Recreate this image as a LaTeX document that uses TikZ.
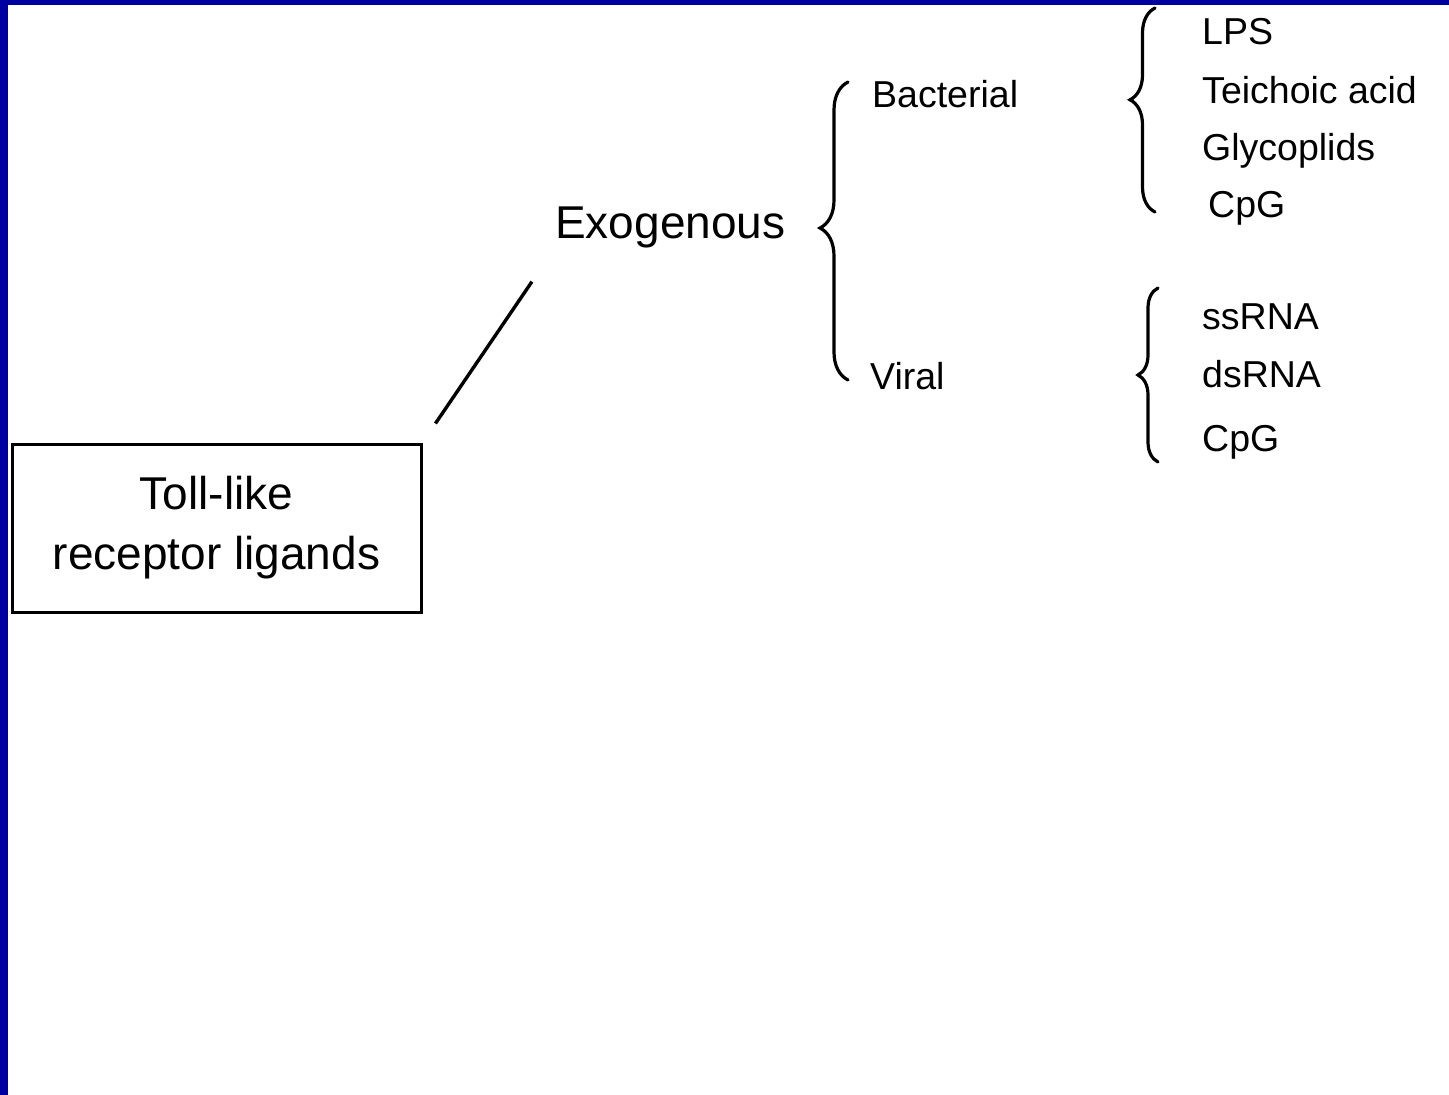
\documentclass[tikz,border=0pt]{standalone}
\usepackage{fontspec}
\setmainfont{Liberation Sans}
\usetikzlibrary{decorations.pathreplacing}
\definecolor{slideblue}{RGB}{0,0,160}

\begin{document}
\begin{tikzpicture}[x=1pt,y=-1pt]
        \tikzset{
    term/.style={anchor=base west, inner sep=0pt, font=\fontsize{37.5}{44}\selectfont},
    bigterm/.style={anchor=base west, inner sep=0pt, font=\fontsize{46}{60}\selectfont},
    curly/.style={decorate, line width=3.2pt, line cap=round, decoration={brace, amplitude=#1}},
        }
        % slide frame
        \useasboundingbox (0,0) rectangle (1449,1095);
        \fill[slideblue] (0,0) rectangle (1449,1095);
        \fill[white] (8,5) rectangle (1449,1095);

        % Root box and the first branch.
        \node[draw, line width=3pt, minimum width=409pt, minimum height=168pt, align=center,
              font=\fontsize{46}{60}\selectfont] (tlr) at (216.5,528) {Toll-like\\receptor ligands};
        \node[bigterm] (exo) at (555,238) {Exogenous};
        \draw[line width=3.4pt, shorten <=23pt, shorten >=41pt] (tlr.north east) -- (exo.south west);

        % Second level.
        \draw[curly=28pt, decoration={aspect=0.51}] (848,380) -- (848,82);
        \node[term] (bact)  at (872,107) {Bacterial};
        \node[term] (viral) at (870,389) {Viral};

        % Bacterial ligands.
        \draw[curly=25pt, decoration={aspect=0.55}] (1155,212) -- (1155,8);
        \node[term] (lps)   at (1202,44)  {LPS};
        \node[term] (teich) at (1202,103) {Teichoic acid};
        \node[term] (glyco) at (1202,160) {Glycoplids};
        \node[term] (cpgb)  at (1208,217) {CpG};

        % Viral ligands.
        \draw[curly=20pt, decoration={aspect=0.5}] (1158,462) -- (1158,288);
        \node[term] (ssrna) at (1202,329) {ssRNA};
        \node[term] (dsrna) at (1202,387) {dsRNA};
        \node[term] (cpgv)  at (1202,451) {CpG};
      \end{tikzpicture}
\end{document}
